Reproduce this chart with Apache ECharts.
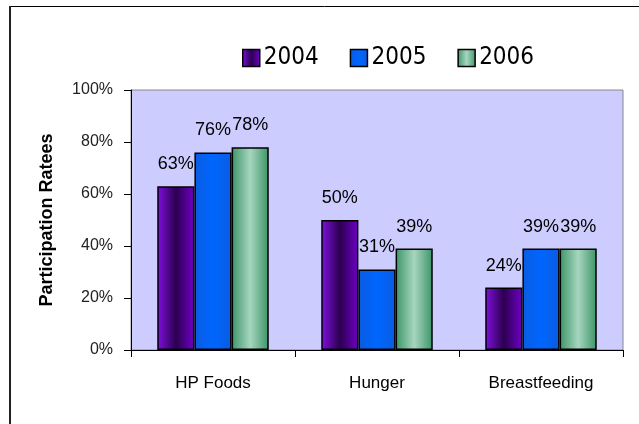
<!DOCTYPE html>
<html>
<head>
<meta charset="UTF-8">
<title>Participation Rates</title>
<script type="text/javascript" src="https://cdn.jsdelivr.net/npm/echarts@6/dist/echarts.min.js"></script>
<style>
  html, body { margin: 0; padding: 0; background: #fff; }
  #main { width: 639px; height: 424px; }
</style>
</head>
<body>
<div id="main"></div>
<script type="text/javascript">
// data
var categories = ['HP Foods', 'Hunger', 'Breastfeeding'];
var years = ['2004', '2005', '2006'];
var values2004 = [0.63, 0.50, 0.24];
var values2005 = [0.76, 0.31, 0.39];
var values2006 = [0.78, 0.39, 0.39];
var yTicks = [0, 0.2, 0.4, 0.6, 0.8, 1.0];

var chart = echarts.init(document.getElementById('main'));

// bar fills, left -> middle -> right
function barFill(edgeL, mid, edgeR) {
    return new echarts.graphic.LinearGradient(0, 0, 1, 0, [
        { offset: 0, color: edgeL },
        { offset: 0.5, color: mid },
        { offset: 1, color: edgeR }
    ]);
}
var fills = [
    barFill('#8010e0', '#2c0050', '#7000c8'),
    barFill('#0a5ce0', '#0066ff', '#0a5ce0'),
    barFill('#3c9468', '#a6d6be', '#3c9468')
];
var seriesData = [values2004, values2005, values2006];

var series = [];
for (var i = 0; i < years.length; i++) {
    series.push({
        name: years[i],
        type: 'bar',
        data: seriesData[i],
        barGap: '0%',
        barCategoryGap: '32%',
        itemStyle: { color: fills[i], borderColor: '#000', borderWidth: 1.5 },
        label: {
            show: true,
            position: 'top',
            distance: 13,
            fontFamily: 'Liberation Sans, Arial, sans-serif',
            fontSize: 18,
            color: '#000',
            formatter: function (p) { return Math.round(p.value * 100) + '%'; }
        }
    });
}

chart.setOption({
    animation: false,
    backgroundColor: '#fff',
    textStyle: { fontFamily: 'Liberation Sans, Arial, sans-serif' },
    legend: {
        data: years,
        left: 237,
        top: 41,
        itemWidth: 17,
        itemHeight: 17,
        itemGap: 31,
        icon: 'rect',
        itemStyle: { borderColor: '#000', borderWidth: 1.5 },
        textStyle: {
            fontFamily: 'Liberation Sans Narrow, DejaVu Sans Condensed, Arial, sans-serif',
            fontSize: 24,
            color: '#000',
            padding: [0, 0, 0, -1]
        }
    },
    grid: {
        left: 131,
        right: 16,
        top: 90,
        bottom: 74,
        show: true,
        backgroundColor: '#ccccff',
        borderColor: '#888',
        borderWidth: 1
    },
    xAxis: {
        type: 'category',
        data: categories,
        axisLine: { lineStyle: { color: '#000', width: 1 } },
        axisTick: { show: true, length: 7, lineStyle: { color: '#000' } },
        axisLabel: { color: '#000', fontSize: 17, margin: 25 }
    },
    yAxis: {
        type: 'value',
        min: 0,
        max: 1,
        interval: 0.2,
        name: 'Participation Ratees',
        nameLocation: 'middle',
        nameGap: 75,
        nameTextStyle: { fontSize: 18, fontWeight: 'bold', color: '#000' },
        axisLine: { show: true, lineStyle: { color: '#000', width: 1 } },
        axisTick: { show: true, length: 7, lineStyle: { color: '#000' } },
        splitLine: { show: false },
        axisLabel: {
            color: '#222',
            fontSize: 16,
            margin: 18,
            formatter: function (v) {
                for (var k = 0; k < yTicks.length; k++) {
                    if (Math.abs(yTicks[k] - v) < 1e-9) return Math.round(v * 100) + '%';
                }
                return '';
            }
        }
    },
    graphic: [
        // the outer frame, only its top and left edges are inside the picture
        { type: 'line', shape: { x1: 10, y1: 6.5, x2: 639, y2: 6.5 }, style: { stroke: '#000', lineWidth: 1 } },
        { type: 'line', shape: { x1: 10, y1: 6, x2: 10, y2: 424 }, style: { stroke: '#222', lineWidth: 2 } }
    ],
    series: series
});
</script>
</body>
</html>
